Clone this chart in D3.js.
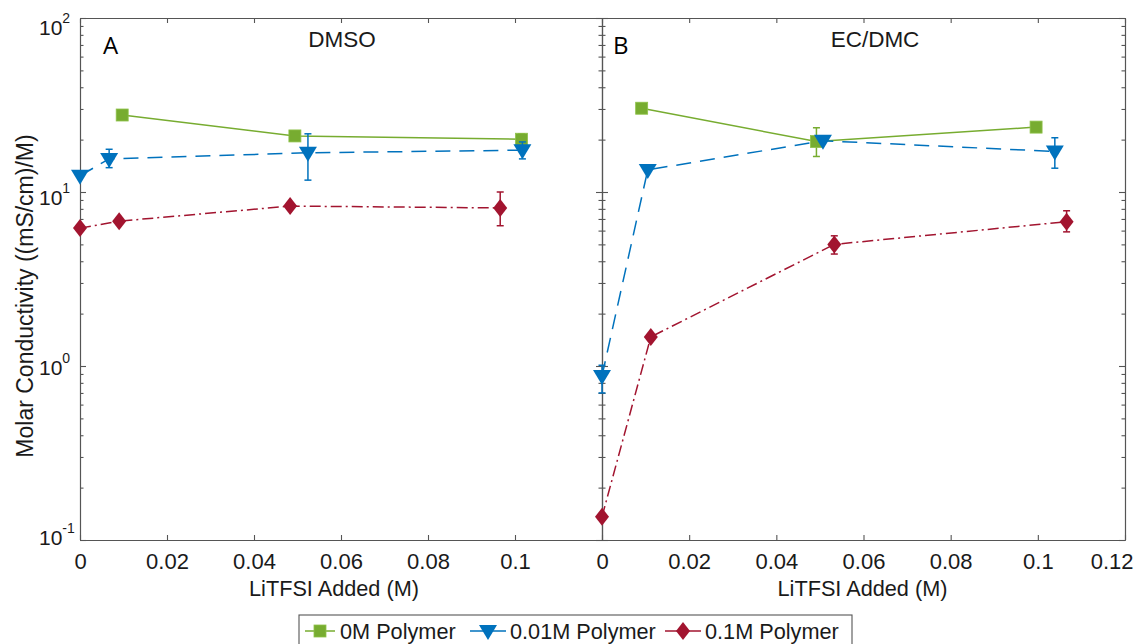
<!DOCTYPE html>
<html><head><meta charset="utf-8">
<script src="https://cdnjs.cloudflare.com/ajax/libs/d3/7.8.5/d3.min.js"></script>
<style>
body{margin:0;background:#fff;}
svg{font-family:"Liberation Sans",Arial,Helvetica,sans-serif;}
</style></head><body>
<svg id="c" width="1138" height="644"></svg>
<script>
// ---------- data ----------
const panelNames = ["DMSO", "EC/DMC"];
const panelLetters = ["A", "B"];
const seriesNames = ["0M Polymer", "0.01M Polymer", "0.1M Polymer"];
const seriesColors = ["#77AC30", "#0072BD", "#A2142F"];

// DMSO panel
const dmso0x = [0.0097, 0.0494, 0.1015];
const dmso0y = [27.7, 21.0, 20.1];
const dmso0err = [null, [20.2, 22.0], [19.3, 21.6]];
const dmso1x = [0, 0.0067, 0.0524, 0.1017];
const dmso1y = [12.4, 15.5, 16.8, 17.4];
const dmso1err = [null, [13.8, 17.6], [11.7, 21.6], [15.5, 19.4]];
const dmso2x = [0, 0.009, 0.0483, 0.0966];
const dmso2y = [6.2, 6.8, 8.3, 8.1];
const dmso2err = [null, null, null, [6.4, 10.0]];

// EC/DMC panel
const ec0x = [0.0091, 0.0492, 0.0996];
const ec0y = [30.3, 19.5, 23.6];
const ec0err = [null, [16.0, 23.4], null];
const ec1x = [0, 0.0105, 0.0507, 0.1039];
const ec1y = [0.877, 13.4, 19.7, 17.1];
const ec1err = [[0.70, 1.01], null, null, [13.7, 20.5]];
const ec2x = [0, 0.0112, 0.0533, 0.1066];
const ec2y = [0.136, 1.47, 5.0, 6.75];
const ec2err = [null, null, [4.4, 5.6], [5.9, 7.8]];

const xTicksLeft = [0, 0.02, 0.04, 0.06, 0.08, 0.1];
const xTicksRight = [0, 0.02, 0.04, 0.06, 0.08, 0.1, 0.12];
const yMajor = [0.1, 1, 10, 100];
const xDomain = [0, 0.12];
const yDomain = [0.1, 100];
const xTitle = "LiTFSI Added (M)";
const yTitle = "Molar Conductivity ((mS/cm)/M)";

// ---------- layout ----------
const svg = d3.select("#c");
const plotTop = 18, plotBottom = 540;
const panelsX = [[80, 602], [602, 1125]];
const axisColor = "#555";
const textColor = "#1a1a1a";
const y = d3.scaleLog().domain(yDomain).range([plotBottom, plotTop]);

const yMinor = [];
for (let e = -1; e < 2; e++) for (let k = 2; k <= 9; k++) yMinor.push(k * Math.pow(10, e));

const dashes = [null, "15,9", "11,4,2,4"];
const panelData = [
  [[dmso0x, dmso0y, dmso0err], [dmso1x, dmso1y, dmso1err], [dmso2x, dmso2y, dmso2err]],
  [[ec0x, ec0y, ec0err], [ec1x, ec1y, ec1err], [ec2x, ec2y, ec2err]]
];

function marker(g, s, cx, cy) {
  const c = seriesColors[s];
  if (s === 0) {
    g.append("rect").attr("x", cx - 6).attr("y", cy - 6).attr("width", 12).attr("height", 12)
      .attr("fill", c).attr("stroke", "#8fc24a").attr("stroke-width", 0.8);
  } else if (s === 1) {
    g.append("path").attr("d", `M${cx-9},${cy-6}L${cx+9},${cy-6}L${cx},${cy+9}Z`).attr("fill", c);
  } else {
    g.append("path").attr("d", `M${cx},${cy-9}L${cx+7},${cy}L${cx},${cy+9}L${cx-7},${cy}Z`).attr("fill", c);
  }
}

panelsX.forEach((px, p) => {
  const x = d3.scaleLinear().domain(xDomain).range(px);
  const g = svg.append("g");
  const ticks = p === 0 ? xTicksLeft : xTicksRight;

  const bAx = g.append("g").attr("transform", `translate(0,${plotBottom})`)
    .call(d3.axisBottom(x).tickValues(ticks).tickSizeInner(-5).tickSizeOuter(0).tickPadding(13)
      .tickFormat(d3.format("~g")));
  const tAx = g.append("g").attr("transform", `translate(0,${plotTop})`)
    .call(d3.axisTop(x).tickValues(ticks).tickSizeInner(-5).tickSizeOuter(0).tickFormat(""));
  const lAx = g.append("g").attr("transform", `translate(${px[0]},0)`)
    .call(d3.axisLeft(y).tickValues(yMajor).tickSizeInner(-6).tickSizeOuter(0).tickFormat(""));
  const lAxm = g.append("g").attr("transform", `translate(${px[0]},0)`)
    .call(d3.axisLeft(y).tickValues(yMinor).tickSizeInner(-3.5).tickSizeOuter(0).tickFormat(""));
  const rAx = g.append("g").attr("transform", `translate(${px[1]},0)`)
    .call(d3.axisRight(y).tickValues(yMajor).tickSizeInner(-6).tickSizeOuter(0).tickFormat(""));
  const rAxm = g.append("g").attr("transform", `translate(${px[1]},0)`)
    .call(d3.axisRight(y).tickValues(yMinor).tickSizeInner(-3.5).tickSizeOuter(0).tickFormat(""));
  [bAx, tAx, lAx, lAxm, rAx, rAxm].forEach(a => {
    a.selectAll("path,line").attr("stroke", axisColor).attr("stroke-width", 1.1);
    a.selectAll("text").attr("fill", textColor).attr("font-size", 22)
      .attr("font-family", "'Liberation Sans',Arial,sans-serif");
  });
  // keep the last label inside the figure, as the reference does
  bAx.selectAll(".tick text").filter(d => d === 0.12).attr("text-anchor", "end").attr("x", 8);

  g.append("text").attr("x", p === 0 ? 103 : 613).attr("y", 54).text(panelLetters[p])
    .attr("font-family", "'Open Sans',sans-serif").attr("font-size", 24).attr("fill", "#000");
  g.append("text").attr("x", p === 0 ? 342 : 875).attr("y", 47).attr("text-anchor", "middle")
    .text(panelNames[p]).attr("font-size", 22.5).attr("fill", textColor);
  g.append("text").attr("x", (px[0] + px[1]) / 2 - (p === 0 ? 7 : 1)).attr("y", 596)
    .attr("text-anchor", "middle").text(xTitle).attr("font-size", 21.7).attr("fill", textColor);

  panelData[p].forEach((sd, s) => {
    const [xs, ys, errs] = sd;
    const pts = xs.map((v, i) => [x(v), y(ys[i])]);
    const sg = g.append("g");
    const path = sg.append("path").attr("d", d3.line()(pts)).attr("fill", "none")
      .attr("stroke", seriesColors[s]).attr("stroke-width", 1.5);
    if (dashes[s]) path.attr("stroke-dasharray", dashes[s]);
    errs.forEach((e, i) => {
      if (!e) return;
      const cx = x(xs[i]), y0 = y(e[0]), y1 = y(e[1]);
      sg.append("line").attr("x1", cx).attr("x2", cx).attr("y1", y0).attr("y2", y1)
        .attr("stroke", seriesColors[s]).attr("stroke-width", 1.5);
      [y0, y1].forEach(yy => sg.append("line").attr("x1", cx - 3.5).attr("x2", cx + 3.5)
        .attr("y1", yy).attr("y2", yy).attr("stroke", seriesColors[s]).attr("stroke-width", 1.5));
    });
    pts.forEach(pt => marker(sg, s, pt[0], pt[1]));
  });
});

yMajor.forEach(v => {
  const e = Math.round(Math.log10(v));
  const t = svg.append("text").attr("x", 39).attr("y", y(v) + 9.25 + 4 * e)
    .attr("font-size", 21).attr("fill", textColor);
  t.append("tspan").text("10");
  t.append("tspan").text(String(e)).attr("font-size", 14).attr("dy", -12);
});

svg.append("text").attr("transform", "translate(33,296) rotate(-90)").attr("text-anchor", "middle")
  .text(yTitle).attr("font-size", 23).attr("fill", textColor);

const leg = svg.append("g");
leg.append("rect").attr("x", 299).attr("y", 615).attr("width", 553).attr("height", 40)
  .attr("fill", "#fff").attr("stroke", axisColor).attr("stroke-width", 1.1);
const legX = [[305, 335, 340], [470, 506, 510], [665, 701, 705]];
seriesNames.forEach((n, s) => {
  const [a, b, tx] = legX[s];
  const cy = 631;
  leg.append("line").attr("x1", a).attr("x2", b).attr("y1", cy).attr("y2", cy)
    .attr("stroke", seriesColors[s]).attr("stroke-width", 1.5);
  marker(leg, s, (a + b) / 2, cy);
  leg.append("text").attr("x", tx).attr("y", 639).text(n).attr("font-size", 21.7).attr("fill", textColor);
});
</script></body></html>
